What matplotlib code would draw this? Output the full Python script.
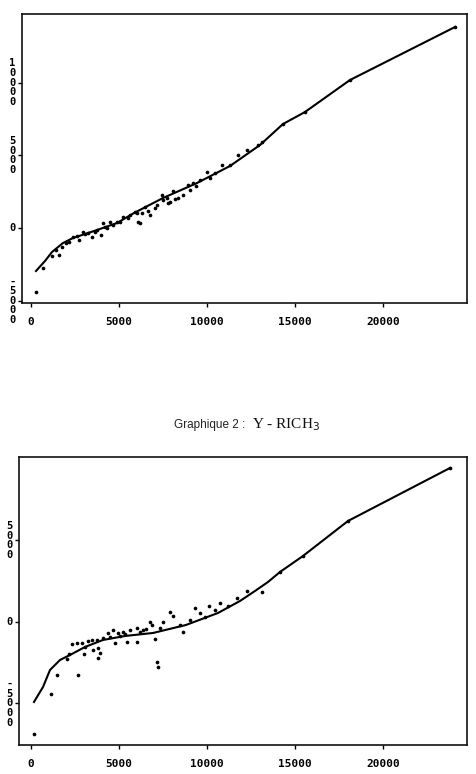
import matplotlib
matplotlib.use("Agg")
import matplotlib.pyplot as plt

# --- graphique du haut ---
top_px = [284, 699, 1176, 1608, 1989, 2176, 2744, 2403, 3449, 3977, 3636, 3256, 2972,
          4108, 4489, 4870, 5244, 5625, 6006, 6097, 4301, 4676, 6193, 6761, 5909, 6477,
          7142, 7517, 7710, 8085, 8370, 8938, 9602, 9983, 10455, 10836, 11307, 11779,
          12256, 12915, 7898, 7426, 9222, 13125, 14318, 15568, 18125, 24091,
          2614, 3068, 3750, 4205, 5057, 5511, 6307, 6648, 7045, 7784, 8182, 8636, 9034,
          9375, 10170, 1761, 1420]
top_py = [-4403, -2773, -1906, -1858, -1011, -943, -826, -599, -599, -482, -255, -365, -255,
          323, 433, 433, 777, 894, 1011, 433, -21, 206, 365, 894, 1121, 1465,
          1582, 1926, 2043, 2566, 2043, 2958, 3302, 3873, 3763, 4334, 4334, 5022,
          5366, 5710, 1809, 2270, 3075, 5917, 7155, 7981, 10182, 13829,
          -550, -413, -138, 69, 413, 688, 1032, 1170, 1376, 1720, 1995, 2270, 2614,
          2890, 3440, -1307, -1514]
top_lx = [284, 795, 1193, 1818, 2386, 3750, 4887, 5852, 7500, 9432, 11307, 13011,
          14318, 15568, 18125, 24091]
top_ly = [-2958, -2270, -1651, -1032, -688, -138, 344, 1032, 2064, 3096, 4266, 5710,
          7155, 7981, 10182, 13829]
top_yticks = [-5000, 0, 5000, 10000]

# --- graphique 2 : Y - RICH3 ---
bot_px = [188, 1136, 1460, 2653, 2063, 2176, 3011, 3540, 3824, 3921, 3824, 2313, 2597,
          2881, 3256, 3449, 3733, 4108, 4489, 4773, 4960, 5244, 5438, 5625, 6006, 6006,
          4392, 4676, 7046, 6761, 6858, 7517, 7898, 8085, 8654, 8466, 9318, 9602, 9886,
          10114, 10455, 10739, 11211, 11688, 12256, 7142, 7233, 6381, 14148, 15472,
          18011, 23807, 5057, 5341, 6193, 6534, 7330, 9034, 13125, 3068]
bot_py = [-6871, -4417, -3252, -3252, -2288, -1963, -1963, -1718, -2227, -1883, -1613,
          -1350, -1307, -1307, -1166, -1104, -1104, -1000, -902, -1307, -693, -595, -1209,
          -491, -387, -1209, -693, -491, -1043, 18, -184, 18, 632, 368, -595, -184, 840,
          534, 325, 1000, 736, 1147, 982, 1454, 1902, -2436, -2779, -491, 3086, 4049,
          6196, 9466, -859, -736, -614, -429, -368, 123, 1840, -1534]
bot_lx = [170, 682, 1080, 1648, 2216, 3068, 4091, 5341, 6932, 8807, 10625, 11875,
          12728, 13466, 14148, 15455, 18011, 23807]
bot_ly = [-4908, -3988, -2945, -2331, -2025, -1534, -1104, -859, -675, -184, 552, 1288,
          1902, 2454, 3068, 4049, 6196, 9448]
bot_yticks = [-5000, 0, 5000]

xticks = [0, 5000, 10000, 15000, 20000]

MONO = "DejaVu Sans Mono"


def draw(ax, px, py, lx, ly, yticks, xlim, ylim):
    ax.plot(lx, ly, color="black", lw=1.5, zorder=2)
    ax.scatter(px, py, s=7, color="black", zorder=3, linewidths=0)
    ax.set_xlim(*xlim)
    ax.set_ylim(*ylim)
    ax.set_xticks(xticks)
    ax.set_xticklabels([str(v) for v in xticks], fontfamily=MONO,
                       fontweight="bold", fontsize=8)
    ax.set_yticks(yticks)
    # etiquettes verticales, un caractere par ligne
    ax.set_yticklabels(["\n".join(str(v)) for v in yticks], fontfamily=MONO,
                       fontweight="bold", fontsize=7.5, linespacing=0.95)
    for lab in ax.get_yticklabels():
        lab.set_ha("center")
        lab.set_va("center")
    ax.tick_params(axis="x", direction="out", length=3, width=1, pad=7)
    ax.tick_params(axis="y", direction="out", length=3, width=1, pad=4)
    for s in ax.spines.values():
        s.set_linewidth(1.2)
        s.set_color("#111")


fig = plt.figure(figsize=(4.76, 7.74), dpi=100)
ax1 = fig.add_axes([0.0462, 0.6085, 0.9349, 0.3734])
draw(ax1, top_px, top_py, top_lx, top_ly, top_yticks, (-511, 24773), (-5160, 14723))

ax2 = fig.add_axes([0.0399, 0.0375, 0.9412, 0.3721])
draw(ax2, bot_px, bot_py, bot_lx, bot_ly, bot_yticks, (-682, 24773), (-7546, 10123))

fig.text(0.515, 0.451, "Graphique 2 :", ha="right", va="center",
         fontfamily="Liberation Sans", fontsize=8.5, color="#222")
fig.text(0.53, 0.451, "Y - RICH$_3$", ha="left", va="center",
         fontfamily="Liberation Serif", fontsize=11, color="#111")

fig.savefig("out.png", dpi=100)
